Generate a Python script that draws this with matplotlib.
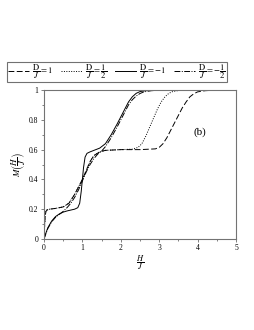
import matplotlib
matplotlib.use("Agg")
import matplotlib.pyplot as plt
from matplotlib.ticker import MultipleLocator

plt.rcParams['font.family'] = ['Liberation Serif', 'DejaVu Serif']
plt.rcParams['mathtext.fontset'] = 'stix'

# D/J = 1 (dashed)
h_p1 = [0, 0.01, 0.03, 0.05, 0.08, 0.15, 0.3, 0.5, 0.65, 0.8, 0.9, 1.0, 1.1, 1.2, 1.3, 1.45, 1.6, 2.0,
        2.5, 2.9, 3.0, 3.1, 3.2, 3.3, 3.4, 3.5, 3.6, 3.7, 3.8, 3.9, 4.0, 4.2, 4.5, 5.0]
m_p1 = [0, 0.06, 0.15, 0.185, 0.195, 0.2, 0.205, 0.215, 0.24, 0.3, 0.35, 0.4, 0.46, 0.52, 0.56, 0.585, 0.595, 0.6,
        0.6, 0.605, 0.615, 0.64, 0.68, 0.73, 0.78, 0.83, 0.88, 0.92, 0.955, 0.975, 0.988, 0.996, 1.0, 1.0]
# D/J = 1/2 (dotted)
h_p05 = [0, 0.01, 0.03, 0.05, 0.08, 0.15, 0.3, 0.5, 0.65, 0.8, 0.9, 1.0, 1.1, 1.2, 1.3, 1.45, 1.6, 2.0,
         2.3, 2.45, 2.55, 2.65, 2.75, 2.85, 2.95, 3.05, 3.15, 3.25, 3.35, 3.5, 3.8, 5.0]
m_p05 = [0, 0.06, 0.15, 0.185, 0.195, 0.2, 0.205, 0.215, 0.24, 0.3, 0.35, 0.4, 0.46, 0.52, 0.56, 0.585, 0.595, 0.6,
         0.603, 0.615, 0.64, 0.69, 0.75, 0.81, 0.87, 0.92, 0.955, 0.978, 0.99, 0.997, 1.0, 1.0]
# D/J = -1 (solid)
h_m1 = [0, 0.05, 0.1, 0.2, 0.3, 0.4, 0.5, 0.6, 0.7, 0.8, 0.88, 0.93, 0.97, 1.0, 1.03, 1.07, 1.12, 1.2, 1.3,
        1.45, 1.6, 1.75, 1.9, 2.0, 2.1, 2.2, 2.3, 2.4, 2.5, 2.7, 3.0, 5.0]
m_m1 = [0, 0.04, 0.075, 0.12, 0.15, 0.168, 0.18, 0.188, 0.194, 0.2, 0.21, 0.24, 0.32, 0.4, 0.48, 0.55, 0.575, 0.585, 0.595,
        0.61, 0.64, 0.7, 0.77, 0.82, 0.87, 0.92, 0.955, 0.978, 0.99, 0.998, 1.0, 1.0]
# D/J = -1/2 (dash-dot)
h_m05 = [0, 0.05, 0.1, 0.2, 0.3, 0.4, 0.5, 0.6, 0.7, 0.8, 0.9, 1.0, 1.1, 1.2, 1.3, 1.4, 1.5, 1.6, 1.75, 1.9,
         2.0, 2.1, 2.2, 2.3, 2.4, 2.5, 2.6, 2.8, 3.1, 5.0]
m_m05 = [0, 0.035, 0.07, 0.115, 0.145, 0.165, 0.185, 0.21, 0.24, 0.28, 0.33, 0.39, 0.45, 0.5, 0.54, 0.57, 0.59, 0.62, 0.68, 0.75,
         0.8, 0.85, 0.9, 0.935, 0.96, 0.977, 0.988, 0.996, 1.0, 1.0]

fig = plt.figure(figsize=(2.55, 3.30), dpi=100)
ax = fig.add_axes([0.1725, 0.276, 0.753, 0.451])

lw = 0.7
l1, = ax.plot(h_p1, m_p1, color='black', lw=lw, ls=(0, (6, 2.5)))
l2, = ax.plot(h_p05, m_p05, color='black', lw=lw, ls=(0, (1, 1.5)))
l3, = ax.plot(h_m1, m_m1, color='black', lw=lw, ls='-')
l4, = ax.plot(h_m05, m_m05, color='black', lw=lw, ls=(0, (6, 1.5, 1, 1.5)))

ax.set_xlim(0, 5)
ax.set_ylim(0, 1)
ax.xaxis.set_major_locator(MultipleLocator(1))
ax.xaxis.set_minor_locator(MultipleLocator(0.5))
ax.yaxis.set_minor_locator(MultipleLocator(0.1))
ax.set_yticks([0, 0.2, 0.4, 0.6, 0.8, 1.0])
ax.set_yticklabels(['0', '0.2', '0.4', '0.6', '0.8', '1'])
ax.tick_params(which='both', direction='out', labelsize=5.5, width=0.5, color='0.3', pad=1.5)
ax.tick_params(which='major', length=2.5)
ax.tick_params(which='minor', length=1.5)
for s in ax.spines.values():
    s.set_linewidth(0.8)
    s.set_color('0.45')

ax.set_xlabel(r'$\dfrac{H}{J}$', fontsize=6, labelpad=1)
ax.set_ylabel(r'$M\left(\dfrac{H}{J}\right)$', fontsize=6.5, labelpad=1)
ax.text(4.05, 0.72, '(b)', fontsize=8, ha='center', va='center')

leg = fig.legend([l1, l2, l3, l4],
                 [r'$\dfrac{\mathrm{D}}{J}=1$', r'$\dfrac{\mathrm{D}}{J}=\dfrac{1}{2}$',
                  r'$\dfrac{\mathrm{D}}{J}=-1$', r'$\dfrac{\mathrm{D}}{J}=-\dfrac{1}{2}$'],
                 loc='center', bbox_to_anchor=(0.459, 0.782), ncol=4, fontsize=6.2,
                 handlelength=2.4, handletextpad=0.4, columnspacing=0.9,
                 borderpad=0.12, borderaxespad=0, fancybox=False, frameon=True)
leg.get_frame().set_edgecolor('0.3')
leg.get_frame().set_linewidth(0.8)

fig.savefig('out.png', dpi=100)
